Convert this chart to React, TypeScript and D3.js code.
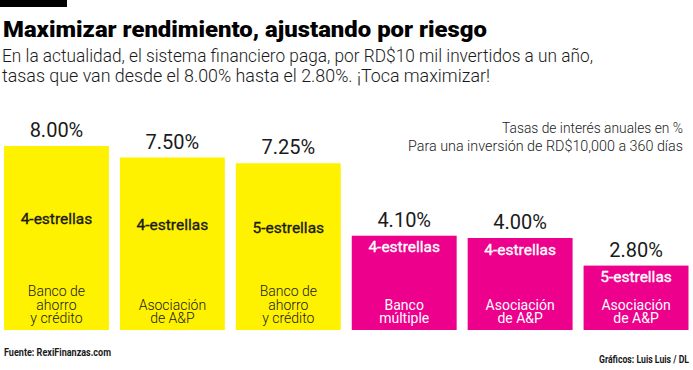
import React from "react";
import * as d3 from "d3";

const rates = [8.0, 7.5, 7.25, 4.1, 4.0, 2.8];
const rateLabels = ["8.00%", "7.50%", "7.25%", "4.10%", "4.00%", "2.80%"];
const ratings = ["4-estrellas", "4-estrellas", "5-estrellas", "4-estrellas", "4-estrellas", "5-estrellas"];
const institutions = [
  ["Banco de", "ahorro", "y crédito"],
  ["Asociación", "de A&P"],
  ["Banco de", "ahorro", "y crédito"],
  ["Banco", "múltiple"],
  ["Asociación", "de A&P"],
  ["Asociación", "de A&P"],
];
const tiers = ["alta", "alta", "alta", "baja", "baja", "baja"];

const title = "Maximizar rendimiento, ajustando por riesgo";
const subtitle = [
  "En la actualidad, el sistema financiero paga, por RD$10 mil invertidos a un año,",
  "tasas que van desde el 8.00% hasta el 2.80%. ¡Toca maximizar!",
];
const notes = ["Tasas de interés anuales en %", "Para una inversión de RD$10,000 a 360 días"];
const source = "Fuente: RexiFinanzas.com";
const credit = "Gráficos: Luis Luis / DL";

const W = 693;
const H = 370;
const FONT = "Roboto, 'Noto Sans', sans-serif";

export default function App() {
  const idx = rates.map((_, i) => i);
  const x = d3.scaleBand<number>().domain(idx).range([4, 688.5]).paddingInner(0.095).paddingOuter(0);
  const y = d3.scaleLinear().domain([0, 8]).range([330, 146]);
  const color = d3.scaleOrdinal<string, string>().domain(["alta", "baja"]).range(["#FFF200", "#EC008C"]);
  const textColor = d3.scaleOrdinal<string, string>().domain(["alta", "baja"]).range(["#1a1a1a", "#ffffff"]);

  return (
    <svg width={W} height={H} style={{ position: "absolute", left: 0, top: 0, display: "block" }} fontFamily={FONT}>
      <rect x={0} y={0} width={W} height={H} fill="#ffffff" />
      <rect x={0} y={0} width={67} height={7} fill="#000000" />
      <text x={3} y={37} fontSize={22} fontWeight={900} fill="#000" textLength={484} lengthAdjust="spacingAndGlyphs">
        {title}
      </text>
      {subtitle.map((s, i) => (
        <text key={i} x={2} y={62 + i * 20} fontSize={18.5} fontWeight={300} fill="#1a1a1a"
          textLength={i === 0 ? 591 : 488} lengthAdjust="spacingAndGlyphs">
          {s}
        </text>
      ))}
      {notes.map((s, i) => (
        <text key={i} x={683} y={133 + i * 18} fontSize={15} fontWeight={300} fill="#1a1a1a" textAnchor="end"
          textLength={i === 0 ? 181 : 275} lengthAdjust="spacingAndGlyphs">
          {s}
        </text>
      ))}
      {idx.map((i) => {
        const x0 = x(i)!;
        const bw = x.bandwidth();
        const cx = x0 + bw / 2;
        const top = y(rates[i]);
        const tier = tiers[i];
        const ratingY = tier === "alta" ? (top + 300) / 2 + 1 : top + 16.5;
        const lines = institutions[i];
        const lh = 13.5;
        return (
          <g key={i}>
            <rect x={x0} y={top} width={bw} height={y(0) - top} fill={color(tier)} />
            <text x={cx} y={top - 9} textAnchor="middle" fontSize={20} fontWeight={400} fill="#1a1a1a">
              {rateLabels[i]}
            </text>
            <text x={cx} y={ratingY} textAnchor="middle" fontSize={15.5} fontWeight={400} fill={textColor(tier)}
              stroke={textColor(tier)} strokeWidth={0.35}>
              {ratings[i]}
            </text>
            {lines.map((l, j) => (
              <text key={j} x={cx} y={323 - (lines.length - 1 - j) * lh} textAnchor="middle"
                fontSize={14} fontWeight={tier === "alta" ? 300 : 400} fill={textColor(tier)}>
                {l}
              </text>
            ))}
          </g>
        );
      })}
      <text x={4} y={356} fontSize={11.5} fontWeight={700} fill="#1a1a1a" textLength={107} lengthAdjust="spacingAndGlyphs">
        {source}
      </text>
      <text x={689} y={363} fontSize={11.5} fontWeight={700} fill="#1a1a1a" textAnchor="end" textLength={90} lengthAdjust="spacingAndGlyphs">
        {credit}
      </text>
    </svg>
  );
}
